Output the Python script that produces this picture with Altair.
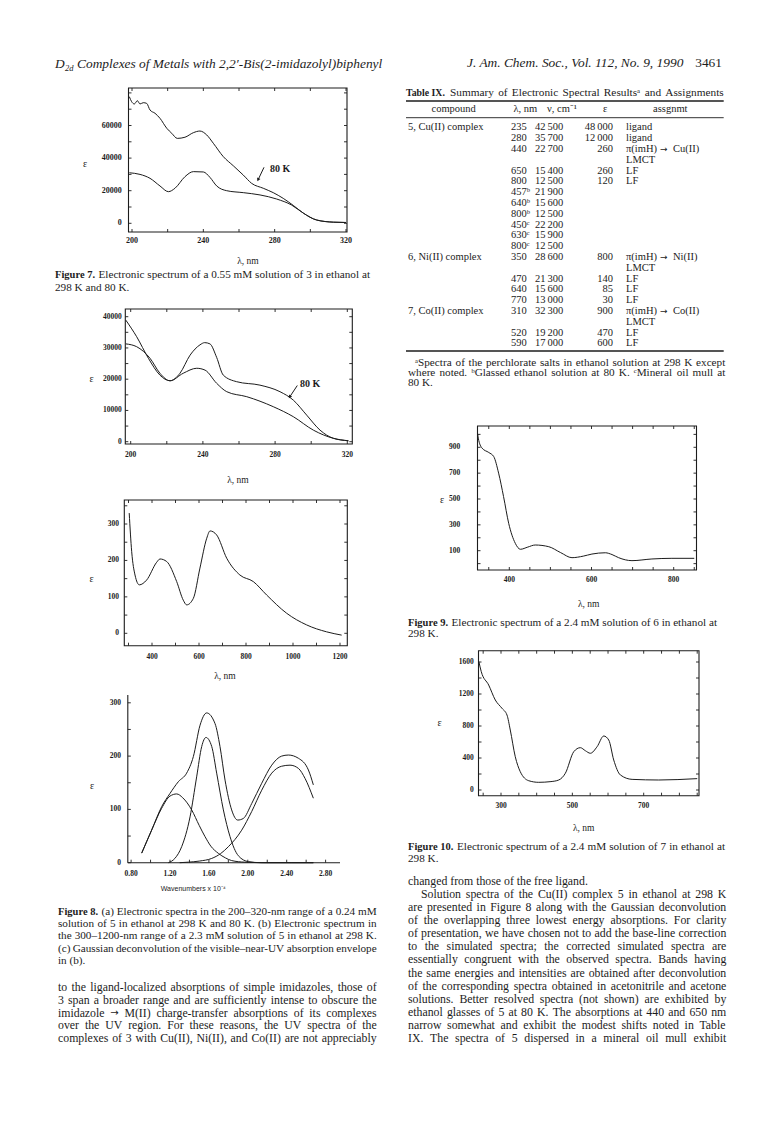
import altair as alt
import pandas as pd

INK = "#1c1c1c"
SERIF = "Liberation Serif"
TS = "\u2009"  # thin space used in the table numbers

# ---------------------------------------------------------------- data
# Figure 7: epsilon vs wavelength (nm), 80 K and 298 K
F7_80K_NM = [198.5, 199.8, 201.3, 203, 204.5, 206.3, 208.2, 210.1, 212.9, 215.7, 219.5, 222.3, 225.4, 229.7,
             234.4, 238.1, 241.9, 245.6, 251.2, 256.8, 262.4, 267.1, 273.6, 279.2, 284.8, 290.4, 296, 303.6,
             312.9, 320]
F7_80K_EPS = [77700, 74600, 73200, 75200, 73200, 74000, 73600, 69500, 67500, 64400, 58300, 55200, 52100, 52800,
              55600, 56600, 54200, 49100, 40900, 35300, 29600, 24500, 21500, 18800, 15300, 11000, 6300, 2000,
              700, 500]
F7_298K_NM = [198.5, 204.5, 210.1, 215.7, 220.4, 224.1, 229.7, 234.4, 240, 243.7, 247.5, 253.1, 262.4, 271.8,
              281.1, 289.5, 296, 303.6, 312.9, 320]
F7_298K_EPS = [31000, 30000, 27600, 22900, 19400, 21500, 28600, 31700, 31500, 28200, 22900, 20000, 18800, 17400,
               14900, 11200, 6300, 2000, 700, 500]

# Figure 8a
F8A_80K_NM = [197.3, 203.3, 210.7, 216.2, 221.8, 227.3, 232.9, 238.4, 241, 243.9, 247.6, 251.3, 258.7, 271.6,
              282.7, 290.1, 297.5, 304.9, 312.2, 320.6]
F8A_80K_EPS = [31300, 30400, 26700, 21900, 19500, 21900, 27700, 31000, 31700, 31300, 27000, 21300, 19200, 18100,
               16000, 13300, 8500, 3700, 1100, 300]
F8A_298K_NM = [197.3, 203.3, 209.8, 216.2, 221.8, 229.1, 236.6, 241.2, 247.6, 253.2, 264.3, 279, 290.1, 301.2,
               312.2, 320.6]
F8A_298K_EPS = [38900, 33600, 26700, 21300, 19500, 21900, 23500, 22900, 18700, 16000, 14400, 11200, 8000, 3700,
                1100, 300]

# Figure 8b
F8B_NM = [303, 313.6, 327.7, 346, 377, 420, 434, 462.5, 505, 533, 547.7, 576, 604, 633, 647, 675, 718, 774,
          831, 888, 973, 1058, 1143, 1207]
F8B_EPS = [330, 224, 160, 133, 146, 195, 204, 197, 142, 91, 78, 96, 179, 261, 281, 270, 206, 160, 142, 105, 55,
           23, 4, -5]

# Figure 8c: Gaussian deconvolution (wavenumbers x 10^-4)
F8C_ENV_X = [0.909, 1.011, 1.114, 1.20, 1.286, 1.371, 1.44, 1.509, 1.577, 1.663, 1.714, 1.766, 1.834, 1.896,
             1.954, 2.04, 2.143, 2.246, 2.348, 2.417, 2.52, 2.623, 2.674]
F8C_ENV_Y = [18, 61, 105, 130, 152, 168, 199, 258, 281, 261, 218, 155, 99, 80, 83, 111, 149, 183, 200, 202, 196,
             174, 146]
F8C_LEFT_X = [0.909, 1.011, 1.114, 1.20, 1.269, 1.33, 1.423, 1.50, 1.56, 1.62, 1.697, 1.77, 1.834, 1.97, 2.2,
              2.45, 2.674]
F8C_LEFT_Y = [18, 61, 102, 125, 129, 122, 99, 70, 49, 31, 17.6, 9, 4, 1, 0, 0, 0]
F8C_MID_X = [1.183, 1.25, 1.32, 1.406, 1.474, 1.526, 1.57, 1.629, 1.68, 1.749, 1.817, 1.903, 2.006, 2.14, 2.4,
             2.674]
F8C_MID_Y = [0, 8, 30, 86, 161, 218, 235, 218, 168, 99, 49, 13, 2, 0, 0, 0]
F8C_RIGHT_X = [1.30, 1.389, 1.5, 1.629, 1.72, 1.80, 1.937, 2.04, 2.143, 2.246, 2.348, 2.434, 2.52, 2.589, 2.674]
F8C_RIGHT_Y = [0, 1, 3, 8, 17, 30, 61, 96, 136, 168, 181, 183, 177, 158, 121]

# Figure 9
F9_NM = [323, 324.5, 333.6, 350, 362, 374, 386, 398.5, 414.6, 427, 445, 463, 496, 525, 552.5, 580, 601, 633.6,
         650, 666, 698.5, 747, 795.6, 850]
F9_EPS = [1005, 971, 894, 860, 829, 700, 519, 312, 157, 111, 128, 144, 131, 85, 46, 58, 74, 84, 70, 46, 23, 36,
          41, 41]

# Figure 10
F10_NM = [238, 244.7, 265.5, 284, 302.8, 316.8, 326, 340, 354, 377.7, 405.7, 440, 461.8, 480.4, 504, 522.4,
          536.5, 550.5, 569.3, 588, 602, 616, 634.6, 667.5, 742, 850]
F10_EPS = [1604, 1479, 1312, 1125, 1021, 937, 750, 416, 229, 116, 96, 105, 125, 209, 479, 529, 491, 459, 541,
           675, 625, 375, 188, 133, 125, 142]

# Table IX
TAB_COMPOUND = ["5, Cu(II) complex", "", "", "", "", "", "", "", "", "", "", "",
                "6, Ni(II) complex", "", "", "", "", "7, Co(II) complex", "", "", ""]
TAB_LAMBDA = ["235", "280", "440", "", "650", "800", "457ᵇ", "640ᵇ", "800ᵇ", "450ᶜ", "630ᶜ", "800ᶜ",
              "350", "", "470", "640", "770", "310", "", "520", "590"]
TAB_NU = ["42 500", "35 700", "22 700", "", "15 400", "12 500", "21 900", "15 600", "12 500", "22 200",
          "15 900", "12 500", "28 600", "", "21 300", "15 600", "13 000", "32 300", "", "19 200", "17 000"]
TAB_EPS = ["48 000", "12 000", "260", "", "260", "120", "", "", "", "", "", "",
           "800", "", "140", "85", "30", "900", "", "470", "600"]
TAB_ASSIGN = ["ligand", "ligand", "π(imH) → Cu(II)", "LMCT", "LF", "LF", "", "", "", "", "", "",
              "π(imH) → Ni(II)", "LMCT", "LF", "LF", "LF", "π(imH) → Co(II)", "LMCT", "LF", "LF"]
TAB_HEAD = ["compound", "λ, nm", "ν, cm⁻¹", "ε", "assgnmt"]

# Text
HEADER_LEFT = "Complexes of Metals with 2,2′-Bis(2-imidazolyl)biphenyl"
HEADER_RIGHT = "J. Am. Chem. Soc., Vol. 112, No. 9, 1990"
PAGE_NO = "3461"
CAP7 = ["Electronic spectrum of a 0.55 mM solution of 3 in ethanol at", "298 K and 80 K."]
CAP8 = ["(a) Electronic spectra in the 200–320-nm range of a 0.24 mM",
        "solution of 5 in ethanol at 298 K and 80 K.  (b) Electronic spectrum in",
        "the 300–1200-nm range of a 2.3 mM solution of 5 in ethanol at 298 K.",
        "(c) Gaussian deconvolution of the visible–near-UV absorption envelope",
        "in (b)."]
BODY_LEFT = ["to the ligand-localized absorptions of simple imidazoles, those of",
             "3 span a broader range and are sufficiently intense to obscure the",
             "imidazole → M(II) charge-transfer absorptions of its complexes",
             "over the UV region.  For these reasons, the UV spectra of the",
             "complexes of 3 with Cu(II), Ni(II), and Co(II) are not appreciably"]
TAB_TITLE = "Summary of Electronic Spectral Resultsᵃ and Assignments"
FOOT = ["ᵃSpectra of the perchlorate salts in ethanol solution at 298 K except",
        "where noted.  ᵇGlassed ethanol solution at 80 K.  ᶜMineral oil mull at",
        "80 K."]
CAP9 = ["Electronic spectrum of a 2.4 mM solution of 6 in ethanol at", "298 K."]
CAP10 = ["Electronic spectrum of a 2.4 mM solution of 7 in ethanol at", "298 K."]
BODY_RIGHT = ["changed from those of the free ligand.",
              "Solution spectra of the Cu(II) complex 5 in ethanol at 298 K",
              "are presented in Figure 8 along with the Gaussian deconvolution",
              "of the overlapping three lowest energy absorptions.  For clarity",
              "of presentation, we have chosen not to add the base-line correction",
              "to the simulated spectra; the corrected simulated spectra are",
              "essentially congruent with the observed spectra.  Bands having",
              "the same energies and intensities are obtained after deconvolution",
              "of the corresponding spectra obtained in acetonitrile and acetone",
              "solutions.  Better resolved spectra (not shown) are exhibited by",
              "ethanol glasses of 5 at 80 K.  The absorptions at 440 and 650 nm",
              "narrow somewhat and exhibit the modest shifts noted in Table",
              "IX.  The spectra of 5 dispersed in a mineral oil mull exhibit"]

# ---------------------------------------------------------------- helpers
ONE = pd.DataFrame({"k": [0]})


def px(x):
    return x - 8


def py(y):
    return y - 8


def seg(x1, y1, x2, y2, w=1.0):
    return alt.Chart(ONE).mark_rule(color=INK, strokeWidth=w).encode(
        x=alt.value(px(x1)), y=alt.value(py(y1)), x2=alt.value(px(x2)), y2=alt.value(py(y2)))


def frame(l, t, r, b, w=1.1):
    return alt.Chart(ONE).mark_rect(fillOpacity=0, stroke=INK, strokeWidth=w).encode(
        x=alt.value(px(l)), x2=alt.value(px(r)), y=alt.value(py(t)), y2=alt.value(py(b)))


def arrow(x1, y1, x2, y2, ang):
    head = alt.Chart(ONE).mark_point(shape="triangle", filled=True, size=14, color=INK, opacity=1,
                                     angle=ang).encode(x=alt.value(px(x2)), y=alt.value(py(y2)))
    return [seg(x1, y1, x2, y2, 1.0), head]


def fmt(vals, nd=0):
    return [f"{v:.{nd}f}" for v in vals]


def panel(curves, xmap, ymap, xlabels, xlab_y, ylabels, ylab_r, xminor, yminor, box,
          lab_size=7.5, ytick_len=3):
    xs = alt.Scale(domain=[xmap[0], xmap[1]], range=[px(xmap[2]), px(xmap[3])], nice=False, zero=False)
    ys = alt.Scale(domain=[ymap[0], ymap[1]], range=[py(ymap[2]), py(ymap[3])], nice=False, zero=False)

    def X():
        return alt.X("x:Q", scale=xs, axis=None)

    def Y():
        return alt.Y("y:Q", scale=ys, axis=None)

    df = pd.concat([pd.DataFrame({"x": cx, "y": cy, "s": name}) for name, (cx, cy) in curves.items()])
    parts = [alt.Chart(df).mark_line(interpolate="monotone", color=INK, strokeWidth=1.0).encode(
        x=X(), y=Y(), detail="s:N")]
    xv, xt = xlabels
    yv, yt = ylabels
    parts.append(alt.Chart(pd.DataFrame({"x": xv, "t": xt})).mark_text(
        font=SERIF, fontSize=lab_size, fontWeight="bold", color=INK, baseline="middle", align="center").encode(
        x=X(), y=alt.value(py(xlab_y)), text="t:N"))
    parts.append(alt.Chart(pd.DataFrame({"y": yv, "t": yt})).mark_text(
        font=SERIF, fontSize=lab_size, fontWeight="bold", color=INK, baseline="middle", align="right").encode(
        x=alt.value(px(ylab_r)), y=Y(), text="t:N"))
    xdf = pd.DataFrame({"x": xminor})
    ydf = pd.DataFrame({"y": yminor})
    if box is not None:
        l, t, r, b = box
        parts.append(frame(l, t, r, b))
        for yy, d in ((b, -3), (t, 3)):
            parts.append(alt.Chart(xdf).mark_rule(color=INK, strokeWidth=0.9).encode(
                x=X(), y=alt.value(py(yy)), y2=alt.value(py(yy + d))))
        for xx, d in ((l, ytick_len), (r, -ytick_len)):
            parts.append(alt.Chart(ydf).mark_rule(color=INK, strokeWidth=0.9).encode(
                y=Y(), x=alt.value(px(xx)), x2=alt.value(px(xx + d))))
    else:
        l, t, r, b = 127.8, 695, 340, 862.7
        parts.append(seg(l, t, l, b, 1.1))
        parts.append(seg(l, b, r, b, 1.1))
        parts.append(alt.Chart(xdf).mark_rule(color=INK, strokeWidth=0.9).encode(
            x=X(), y=alt.value(py(b)), y2=alt.value(py(b - 3))))
        parts.append(alt.Chart(ydf).mark_rule(color=INK, strokeWidth=0.9).encode(
            y=Y(), x=alt.value(px(l)), x2=alt.value(px(l + 3))))
    return alt.layer(*parts)


# ---------------------------------------------------------------- panels
fig7 = panel({"80K": (F7_80K_NM, F7_80K_EPS), "298K": (F7_298K_NM, F7_298K_EPS)},
             (200, 320, 132, 346), (0, 60000, 223.3, 125.5),
             ([200, 240, 280, 320], fmt([200, 240, 280, 320])), 240.5,
             ([0, 20000, 40000, 60000], fmt([0, 20000, 40000, 60000])), 121.7,
             list(range(200, 321, 20)), list(range(0, 80001, 10000)), (128.5, 88, 347, 232), lab_size=8)

fig8a = panel({"80K": (F8A_80K_NM, F8A_80K_EPS), "298K": (F8A_298K_NM, F8A_298K_EPS)},
              (200, 320, 130.7, 347.3), (0, 40000, 441.7, 316.7),
              ([200, 240, 280, 320], fmt([200, 240, 280, 320])), 455,
              ([0, 10000, 20000, 30000, 40000], fmt([0, 10000, 20000, 30000, 40000])), 121.7,
              list(range(200, 321, 20)), list(range(0, 40001, 5000)), (125.3, 309, 352.3, 444))

fig8b = panel({"b": (F8B_NM, F8B_EPS)},
              (400, 1200, 152, 340), (0, 300, 633.3, 524),
              ([400, 600, 800, 1000, 1200], fmt([400, 600, 800, 1000, 1200])), 656.7,
              ([0, 100, 200, 300], fmt([0, 100, 200, 300])), 119,
              list(range(300, 1201, 100)), list(range(0, 351, 50)), (124.3, 500, 347.3, 645.7))

fig8c = panel({"env": (F8C_ENV_X, F8C_ENV_Y), "g1": (F8C_LEFT_X, F8C_LEFT_Y),
               "g2": (F8C_MID_X, F8C_MID_Y), "g3": (F8C_RIGHT_X, F8C_RIGHT_Y)},
              (0.8, 2.8, 131.1, 325.6), (0, 300, 862.7, 702.8),
              ([0.8, 1.2, 1.6, 2.0, 2.4, 2.8], fmt([0.8, 1.2, 1.6, 2.0, 2.4, 2.8], 2)), 874.3,
              ([0, 100, 200, 300], fmt([0, 100, 200, 300])), 121,
              [0.8 + 0.2 * i for i in range(11)], list(range(0, 301, 50)), None)

fig9 = panel({"n": (F9_NM, F9_EPS)},
             (400, 800, 509.3, 673.7), (100, 900, 550.7, 447.3),
             ([400, 600, 800], fmt([400, 600, 800])), 580,
             ([100, 300, 500, 700, 900], fmt([100, 300, 500, 700, 900])), 460.3,
             list(range(350, 851, 50)), list(range(0, 1001, 100)), (477.5, 426, 696.5, 570))

fig10 = panel({"c": (F10_NM, F10_EPS)},
              (300, 700, 501, 643.7), (0, 1600, 790, 662),
              ([300, 500, 700], fmt([300, 500, 700])), 806,
              ([0, 400, 800, 1200, 1600], fmt([0, 400, 800, 1200, 1600])), 473.7,
              list(range(250, 851, 50)), list(range(0, 1601, 200)), (478.5, 650.7, 699, 795.7))

# ---------------------------------------------------------------- text
STYLES = {
    "hdr_i": dict(font=SERIF, fontSize=13.4, fontStyle="italic"),
    "hdr_sub": dict(font=SERIF, fontSize=8.5, fontStyle="italic"),
    "hdr": dict(font=SERIF, fontSize=13.4),
    "cap_b": dict(font=SERIF, fontSize=10.5, fontWeight="bold"),
    "cap": dict(font=SERIF, fontSize=11.2),
    "foot": dict(font=SERIF, fontSize=11.2),
    "body": dict(font=SERIF, fontSize=11.8),
    "arrow_body": dict(font="DejaVu Sans", fontSize=10),
    "arrow_tab": dict(font="DejaVu Sans", fontSize=9),
    "tab": dict(font=SERIF, fontSize=10.5),
    "tab_b": dict(font=SERIF, fontSize=9.8, fontWeight="bold"),
    "tab_t": dict(font=SERIF, fontSize=11.3),
    "axis": dict(font=SERIF, fontSize=9.5),
    "eps": dict(font=SERIF, fontSize=10),
    "tag": dict(font=SERIF, fontSize=10, fontWeight="bold"),
    "sans": dict(font="Liberation Sans", fontSize=7),
}
# Times-compatible advance widths (per 1000 em) used to spread justified words
AFM = {" ": 250, "(": 333, ")": 333, ",": 250, "-": 333, ".": 250, "/": 278, ":": 278, ";": 278,
       "–": 500, "′": 275, "ᵃ": 300, "ᵇ": 300, "ᶜ": 300, "→": 838}
AFM.update({d: 500 for d in "0123456789"})
AFM.update(dict(zip("ABCDEFGHIJKLMNOPQRSTUVWXYZ",
                    [722, 667, 667, 722, 611, 556, 722, 722, 333, 389, 722, 611, 889, 722, 722, 556, 722, 667,
                     556, 611, 722, 722, 944, 722, 722, 611])))
AFM.update(dict(zip("abcdefghijklmnopqrstuvwxyz",
                    [444, 500, 444, 500, 444, 333, 500, 500, 278, 278, 500, 278, 778, 500, 500, 500, 500, 333,
                     389, 278, 500, 500, 722, 500, 500, 444])))

TEXT = []


def put(t, x, y, style, align="left"):
    if t:
        TEXT.append(dict(t=t, x=px(x), y=py(y), style=style, align=align))


def wlen(s, size):
    return sum(AFM.get(c, 500) for c in s) * size / 1000.0


def justify(line, x0, x1, y, style, arrow_style="arrow_body"):
    size = STYLES[style]["fontSize"]
    words = line.split()
    widths = [wlen(w, 10 if w == "→" else size) for w in words]
    gap = (x1 - x0 - sum(widths)) / max(len(words) - 1, 1)
    x = x0
    for w, wd in zip(words, widths):
        put(w, x, y, arrow_style if w == "→" else style)
        x += wd + gap


# page header
put("D", 55, 64, "hdr_i")
put("2d", 65, 67.5, "hdr_sub")
put(HEADER_LEFT, 77, 64, "hdr_i")
put(HEADER_RIGHT, 467, 63, "hdr_i")
put(PAGE_NO, 722, 63, "hdr", "right")

# figure 7 texts
put("ε", 85, 164, "eps", "center")
put("λ, nm", 248, 261, "axis", "center")
put("80 K", 270, 168.5, "tag")
put("Figure 7.", 55, 275, "cap_b")
justify(CAP7[0], 98.5, 370, 275, "cap")
put(CAP7[1], 55, 287.7, "cap")

# figure 8 texts
put("ε", 91.7, 379.3, "eps", "center")
put("λ, nm", 238, 480, "axis", "center")
put("80 K", 300, 384.3, "tag")
put("ε", 91.7, 579, "eps", "center")
put("λ, nm", 225, 675.7, "axis", "center")
put("ε", 92, 786, "eps", "center")
put("Wavenumbers x 10⁻⁴", 193.3, 889.3, "sans", "center")
put("Figure 8.", 58, 911.7, "cap_b")
for i, line in enumerate(CAP8):
    if i < 4:
        justify(line, 101.5 if i == 0 else 58, 376.7, 911.7 + 12.3 * i, "cap")
    else:
        put(line, 58, 911.7 + 12.3 * i, "cap")
for i, line in enumerate(BODY_LEFT):
    justify(line, 58, 376.7, 987.3 + 12.6 * i, "body")

# table IX
put("Table IX.", 406, 92.7, "tab_b")
justify(TAB_TITLE, 450, 723.7, 92.7, "tab_t")
for t, x in zip(TAB_HEAD, [453.7, 525.3, 562, 605.3, 670.3]):
    put(t, x, 109.3, "tab", "center")
for i in range(len(TAB_LAMBDA)):
    yy = 127.3 + 10.8 * i
    put(TAB_COMPOUND[i], 408, yy, "tab")
    put(TAB_LAMBDA[i], 511, yy, "tab")
    put(TAB_NU[i].replace(" ", TS), 535, yy, "tab")
    put(TAB_EPS[i].replace(" ", TS), 613, yy, "tab", "right")
    if "→" in TAB_ASSIGN[i]:
        left, right = [s.strip() for s in TAB_ASSIGN[i].split("→")]
        put(left, 626, yy, "tab")
        put("→", 660, yy + 0.5, "arrow_tab")
        put(right, 673, yy, "tab")
    else:
        put(TAB_ASSIGN[i], 626, yy, "tab")
justify(FOOT[0], 415, 725.3, 362.7, "foot")
justify(FOOT[1], 408, 725.3, 372.7, "foot")
put(FOOT[2], 408, 382.7, "foot")

# figure 9 / 10 texts
put("ε", 442, 500, "eps", "center")
put("λ, nm", 588.7, 604, "axis", "center")
put("Figure 9.", 408, 622.7, "cap_b")
justify(CAP9[0], 451.5, 717, 622.7, "cap")
put(CAP9[1], 408, 634, "cap")
put("ε", 439.7, 722.7, "eps", "center")
put("λ, nm", 583.7, 828.3, "axis", "center")
put("Figure 10.", 408, 846.7, "cap_b")
justify(CAP10[0], 457, 725, 846.7, "cap")
put(CAP10[1], 408, 858.7, "cap")
put(BODY_RIGHT[0], 408, 880.5, "body")
justify(BODY_RIGHT[1], 421, 726.3, 894.3, "body")
for i, line in enumerate(BODY_RIGHT[2:]):
    justify(line, 408, 726.3, 907.3 + 13.04 * i, "body")

tdf = pd.DataFrame(TEXT)
text_layers = []
for (st, al), grp in tdf.groupby(["style", "align"]):
    text_layers.append(
        alt.Chart(grp[["t", "x", "y"]]).mark_text(align=al, baseline="middle", color=INK, **STYLES[st]).encode(
            x=alt.X("x:Q", scale=None, axis=None), y=alt.Y("y:Q", scale=None, axis=None), text="t:N"))

# table rules and figure arrows
decor = [seg(406, 101, 723.7, 101, 1.6), seg(406, 117.7, 723.7, 117.7, 0.9), seg(406, 351, 723.7, 351, 1.4)]
decor += arrow(264, 167.3, 258.3, 179.3, 205)
decor += arrow(297.3, 385.5, 290, 396.5, 214)

chart = alt.layer(fig7, fig8a, fig8b, fig8c, fig9, fig10, *decor, *text_layers).resolve_scale(
    x="independent", y="independent"
).properties(
    width=768, height=1112, autosize=alt.AutoSizeParams(type="none"), padding=0
).configure_view(stroke=None)

chart.save("out.html", embed_options={"renderer": "svg", "actions": False})
